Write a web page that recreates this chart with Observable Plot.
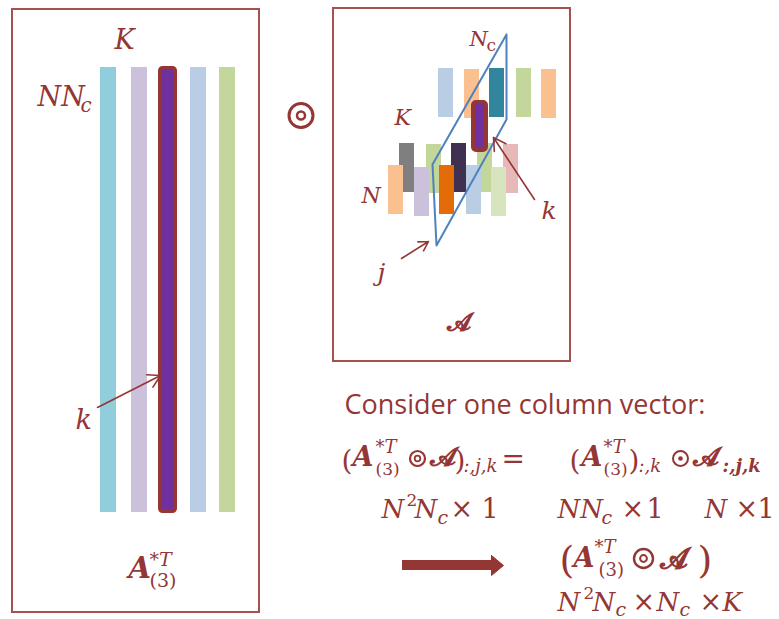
<!DOCTYPE html>
<html><head><meta charset="utf-8">
<script src="https://cdn.jsdelivr.net/npm/d3@7"></script>
<script src="https://cdn.jsdelivr.net/npm/@observablehq/plot@0.6"></script>
<style>body{margin:0;background:#fff}</style>
</head><body><div id="chart"></div>
<script>
const INK = "#943634";
const BOX = "#a5524f";
const BLUE = "#4f81bd";
const SERIF = "'DejaVu Serif', serif";
const SANS = "'Open Sans', Lato, sans-serif";

// panels (frames)
const panels = [
  {x1: 12, y1: 9, x2: 259, y2: 612},
  {x1: 333, y1: 8, x2: 570, y2: 361}
];
// left matrix columns A*T(3)
const leftBars = [
  {x1: 100, x2: 116, y1: 67, y2: 512, color: "#92cddc"},
  {x1: 131, x2: 147, y1: 67, y2: 512, color: "#ccc1da"},
  {x1: 190, x2: 206, y1: 67, y2: 512, color: "#b9cde5"},
  {x1: 219, x2: 235, y1: 67, y2: 512, color: "#c3d69b"}
];
// tensor fibres of A (three slices)
const rightBars = [
  {x1: 438, x2: 453, y1: 68, y2: 117, color: "#b9cde5"},
  {x1: 464, x2: 479, y1: 69, y2: 118, color: "#fac090"},
  {x1: 489, x2: 504, y1: 68, y2: 117, color: "#31859c"},
  {x1: 516, x2: 531, y1: 68, y2: 117, color: "#c3d69b"},
  {x1: 541, x2: 556, y1: 69, y2: 118, color: "#fac090"},
  {x1: 399, x2: 414, y1: 143, y2: 192, color: "#7f7f7f"},
  {x1: 426, x2: 441, y1: 144, y2: 193, color: "#c3d69b"},
  {x1: 451, x2: 466, y1: 143, y2: 192, color: "#403151"},
  {x1: 477, x2: 492, y1: 143, y2: 192, color: "#c3d69b"},
  {x1: 503, x2: 518, y1: 144, y2: 193, color: "#e6b9b8"},
  {x1: 388, x2: 403, y1: 165, y2: 214, color: "#fac090"},
  {x1: 414, x2: 429, y1: 167, y2: 216, color: "#ccc1da"},
  {x1: 439, x2: 454, y1: 165, y2: 214, color: "#e36c09"},
  {x1: 466, x2: 481, y1: 165, y2: 214, color: "#b9cde5"},
  {x1: 491, x2: 506, y1: 167, y2: 216, color: "#d7e4bd"}
];
// highlighted k-th columns
const highlights = [
  {x1: 159.5, x2: 175.5, y1: 67.5, y2: 511.5, sw: 3},
  {x1: 473, x2: 486, y1: 102, y2: 150, sw: 4}
];
// slice j outline
const sliceOutline = [
  {x: 506, y: 34}, {x: 432, y: 164}, {x: 436, y: 245}, {x: 506, y: 119}, {x: 506, y: 34}
];
// thin pointer arrows
const pointers = [
  {x1: 97, y1: 407, x2: 160, y2: 375},
  {x1: 401, y1: 258, x2: 428, y2: 241},
  {x1: 534, y1: 199, x2: 493, y2: 137}
];
// big arrow
const bigShaft = [{x1: 402, x2: 492, y1: 560, y2: 570}];
const bigHead = [{x: 491, y: 555}, {x: 503, y: 565}, {x: 491, y: 575}, {x: 491, y: 555}];

// circled operators
const ops = [
  {x: 300.5, y: 115, r: 12, sw: 3, inner: "ring", ir: 4, isw: 2.5},
  {x: 417, y: 458, r: 7.5, sw: 2.2, inner: "ring", ir: 2.8, isw: 1.8},
  {x: 680, y: 458, r: 7.5, sw: 2, inner: "dot", ir: 2.3, isw: 0},
  {x: 643, y: 558, r: 9.5, sw: 2.4, inner: "ring", ir: 3.4, isw: 2}
];

// text pieces (baseline positions)
const italicText = [
  {t: "K", x: 114, y: 48, s: 27},
  {t: "NN", x: 37, y: 105, s: 27},
  {t: "c", x: 80, y: 111, s: 20},
  {t: "k", x: 75, y: 428, s: 27},
  {t: "*T", x: 149, y: 565, s: 19},
  {t: "N", x: 469, y: 45, s: 21},
  {t: "K", x: 394, y: 124, s: 22},
  {t: "N", x: 361, y: 202, s: 22},
  {t: "k", x: 541, y: 218, s: 25},
  {t: "j", x: 377, y: 280, s: 25},
  {t: "*T", x: 375, y: 452, s: 18},
  {t: ":,j,k", x: 463, y: 471, s: 18},
  {t: "*T", x: 603, y: 452, s: 18},
  {t: ":,k", x: 638, y: 471, s: 18},
  {t: "*T", x: 594, y: 552, s: 18},
  {t: "N", x: 381, y: 517, s: 26},
  {t: "N", x: 414, y: 517, s: 26},
  {t: "c", x: 437, y: 523, s: 19},
  {t: "NN", x: 557, y: 517, s: 26},
  {t: "c", x: 601, y: 523, s: 19},
  {t: "N", x: 704, y: 517, s: 26},
  {t: "N", x: 557, y: 610, s: 26},
  {t: "N", x: 592, y: 610, s: 26},
  {t: "c", x: 615, y: 615, s: 19},
  {t: "N", x: 656, y: 610, s: 26},
  {t: "c", x: 679, y: 615, s: 19},
  {t: "K", x: 722, y: 610, s: 26}
];
const uprightText = [
  {t: "(3)", x: 149, y: 586, s: 19},
  {t: "c", x: 486, y: 50, s: 17},
  {t: "(", x: 341, y: 469, s: 28},
  {t: "(3)", x: 375, y: 474, s: 17},
  {t: ")", x: 454, y: 469, s: 28},
  {t: "=", x: 501, y: 467, s: 28},
  {t: "(", x: 569, y: 469, s: 28},
  {t: "(3)", x: 603, y: 474, s: 17},
  {t: ")", x: 628, y: 469, s: 28},
  {t: "2", x: 406, y: 505, s: 17},
  {t: "×", x: 450, y: 517, s: 27},
  {t: "1", x: 481, y: 517, s: 27},
  {t: "×", x: 621, y: 517, s: 27},
  {t: "1", x: 646, y: 517, s: 27},
  {t: "×", x: 735, y: 517, s: 27},
  {t: "1", x: 757, y: 517, s: 27},
  {t: "(", x: 559, y: 572, s: 38},
  {t: "(3)", x: 598, y: 575, s: 18},
  {t: ")", x: 697, y: 572, s: 38},
  {t: "2", x: 583, y: 598, s: 17},
  {t: "×", x: 632, y: 610, s: 27},
  {t: "×", x: 699, y: 610, s: 27}
];
const boldItalicText = [
  {t: "A", x: 128, y: 577, s: 29},
  {t: "A", x: 352, y: 465, s: 27},
  {t: "A", x: 581, y: 465, s: 27},
  {t: "A", x: 573, y: 566, s: 27},
  {t: ":,j,k", x: 722, y: 471, s: 18}
];
const scriptText = [
  {t: "𝓐", x: 446, y: 330, s: 25},
  {t: "𝓐", x: 429, y: 465, s: 27},
  {t: "𝓐", x: 692, y: 465, s: 27},
  {t: "𝓐", x: 659, y: 567, s: 29}
];
const proseText = [
  {t: "Consider one column vector:", x: 344, y: 413, s: 27}
];

const txt = (data, opts) => Plot.text(data, {
  x: "x", y: "y", text: "t", fontSize: "s", textAnchor: "start", lineAnchor: "bottom",
  fill: INK, fontFamily: SERIF, ...opts
});

const chart = Plot.plot({
  width: 779, height: 619, margin: 0,
  x: {domain: [0, 779], range: [0, 779], axis: null},
  y: {domain: [0, 619], range: [0, 619], axis: null},
  color: {type: "identity"},
  r: {type: "identity"},
  style: {background: "white", overflow: "visible"},
  marks: [
    Plot.rect(panels, {x1: "x1", x2: "x2", y1: "y1", y2: "y2", fill: "none", stroke: BOX, strokeWidth: 2}),
    Plot.rect(leftBars, {x1: "x1", x2: "x2", y1: "y1", y2: "y2", fill: "color"}),
    Plot.rect(rightBars, {x1: "x1", x2: "x2", y1: "y1", y2: "y2", fill: "color"}),
    Plot.line(sliceOutline, {x: "x", y: "y", stroke: BLUE, strokeWidth: 2, curve: "linear"}),
    Plot.rect(highlights, {x1: "x1", x2: "x2", y1: "y1", y2: "y2", fill: "#7030a0", stroke: INK, strokeWidth: "sw", rx: 3}),
    Plot.arrow(pointers, {x1: "x1", y1: "y1", x2: "x2", y2: "y2", stroke: INK, strokeWidth: 1.6, headLength: 13, bend: 0}),
    Plot.rect(bigShaft, {x1: "x1", x2: "x2", y1: "y1", y2: "y2", fill: INK}),
    Plot.line(bigHead, {x: "x", y: "y", fill: INK, stroke: INK, strokeWidth: 1}),
    Plot.dot(ops, {x: "x", y: "y", r: "r", stroke: INK, strokeWidth: "sw", fill: "none"}),
    Plot.dot(ops.filter(d => d.inner === "ring"), {x: "x", y: "y", r: "ir", stroke: INK, strokeWidth: "isw", fill: "none"}),
    Plot.dot(ops.filter(d => d.inner === "dot"), {x: "x", y: "y", r: "ir", fill: INK, stroke: "none"}),
    txt(italicText, {fontStyle: "italic"}),
    txt(uprightText, {}),
    txt(boldItalicText, {fontStyle: "italic", fontWeight: "bold"}),
    txt(scriptText, {fontWeight: "bold"}),
    txt(proseText, {fontFamily: SANS})
  ]
});
document.getElementById("chart").append(chart);
</script></body></html>
